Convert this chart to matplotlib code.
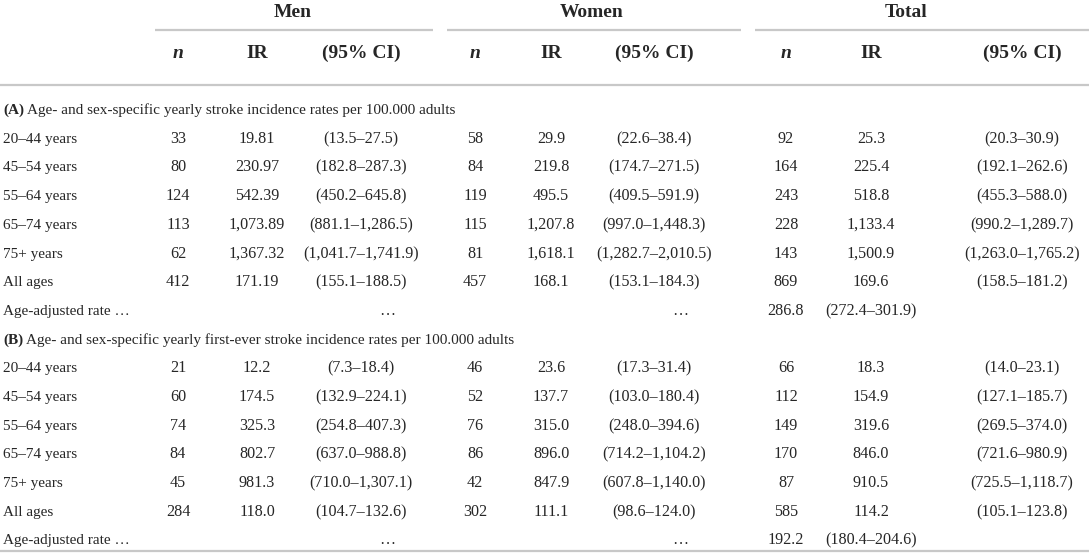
import matplotlib.pyplot as plt

plt.rcParams['font.family'] = ['Liberation Serif', 'DejaVu Serif']

# table content
groups = ['Men', 'Women', 'Total']
sub_cols = ['n', 'IR', '(95% CI)']

section_a = 'Age- and sex-specific yearly stroke incidence rates per 100.000 adults'
section_b = 'Age- and sex-specific yearly first-ever stroke incidence rates per 100.000 adults'

row_labels = ['20–44 years', '45–54 years', '55–64 years', '65–74 years',
              '75+ years', 'All ages', 'Age-adjusted rate …']

men_a = [['33', '19.81', '(13.5–27.5)'],
         ['80', '230.97', '(182.8–287.3)'],
         ['124', '542.39', '(450.2–645.8)'],
         ['113', '1,073.89', '(881.1–1,286.5)'],
         ['62', '1,367.32', '(1,041.7–1,741.9)'],
         ['412', '171.19', '(155.1–188.5)'],
         ['', '', '…']]
women_a = [['58', '29.9', '(22.6–38.4)'],
           ['84', '219.8', '(174.7–271.5)'],
           ['119', '495.5', '(409.5–591.9)'],
           ['115', '1,207.8', '(997.0–1,448.3)'],
           ['81', '1,618.1', '(1,282.7–2,010.5)'],
           ['457', '168.1', '(153.1–184.3)'],
           ['', '', '…']]
total_a = [['92', '25.3', '(20.3–30.9)'],
           ['164', '225.4', '(192.1–262.6)'],
           ['243', '518.8', '(455.3–588.0)'],
           ['228', '1,133.4', '(990.2–1,289.7)'],
           ['143', '1,500.9', '(1,263.0–1,765.2)'],
           ['869', '169.6', '(158.5–181.2)'],
           ['286.8', '(272.4–301.9)', '']]

men_b = [['21', '12.2', '(7.3–18.4)'],
         ['60', '174.5', '(132.9–224.1)'],
         ['74', '325.3', '(254.8–407.3)'],
         ['84', '802.7', '(637.0–988.8)'],
         ['45', '981.3', '(710.0–1,307.1)'],
         ['284', '118.0', '(104.7–132.6)'],
         ['', '', '…']]
women_b = [['46', '23.6', '(17.3–31.4)'],
           ['52', '137.7', '(103.0–180.4)'],
           ['76', '315.0', '(248.0–394.6)'],
           ['86', '896.0', '(714.2–1,104.2)'],
           ['42', '847.9', '(607.8–1,140.0)'],
           ['302', '111.1', '(98.6–124.0)'],
           ['', '', '…']]
total_b = [['66', '18.3', '(14.0–23.1)'],
           ['112', '154.9', '(127.1–185.7)'],
           ['149', '319.6', '(269.5–374.0)'],
           ['170', '846.0', '(721.6–980.9)'],
           ['87', '910.5', '(725.5–1,118.7)'],
           ['585', '114.2', '(105.1–123.8)'],
           ['192.2', '(180.4–204.6)', '']]

# layout (pixel coordinates, y = text baseline)
W, H = 1089, 559
col_x = [178, 257, 361, 475, 551, 654, 786, 871, 1022]
group_x = [293, 592, 906]
group_spans = [(155, 433), (447, 741), (755, 1089)]
y_group, y_span, y_sub, y_head_line = 17, 30, 58, 85
y_first, row_h = 114, 28.7
y_bottom = 551
dots_shift = 26   # the "…" cells sit right of the CI column centre

txt = '#262626'
rule = '#c8c8c8'
fs_body = 11
fs_cell = 11.6
fs_head = 14

fig = plt.figure(figsize=(W / 100, H / 100), dpi=100)
ax = fig.add_axes([0, 0, 1, 1])
ax.set_xlim(0, W)
ax.set_ylim(H, 0)
ax.axis('off')

# header
for g, gx, (x0, x1) in zip(groups, group_x, group_spans):
    ax.text(gx, y_group, g, ha='center', va='baseline', fontsize=fs_head,
            fontweight='bold', color=txt)
    ax.plot([x0, x1], [y_span, y_span], color=rule, lw=1.6, solid_capstyle='butt')
for i, x in enumerate(col_x):
    lab = sub_cols[i % 3]
    ax.text(x, y_sub, lab, ha='center', va='baseline', fontsize=fs_head,
            fontweight='bold', color=txt,
            fontstyle='italic' if lab == 'n' else 'normal')
ax.plot([0, W], [y_head_line, y_head_line], color=rule, lw=1.6, solid_capstyle='butt')
ax.plot([0, W], [y_bottom, y_bottom], color=rule, lw=1.6, solid_capstyle='butt')


def section(y, tag, title):
    y = round(y)
    t = ax.text(3, y, tag, ha='left', va='baseline', fontsize=fs_body,
                fontweight='bold', color=txt)
    ax.annotate(' ' + title, xy=(1, 0), xycoords=t, ha='left', va='bottom',
                fontsize=fs_body, color=txt)


def block(y0, men, women, total):
    for r, lab in enumerate(row_labels):
        y = round(y0 + r * row_h)
        ax.text(3, y, lab, ha='left', va='baseline', fontsize=fs_body, color=txt)
        cells = men[r] + women[r] + total[r]
        for x, c in zip(col_x, cells):
            if not c:
                continue
            if c == '…':
                x += dots_shift
            ax.text(x, y, c, ha='center', va='baseline', fontsize=fs_cell, color=txt)


section(y_first, '(A)', section_a)
block(y_first + row_h, men_a, women_a, total_a)
section(y_first + 8 * row_h, '(B)', section_b)
block(y_first + 9 * row_h, men_b, women_b, total_b)

fig.savefig('out.png', dpi=100, facecolor='white')
